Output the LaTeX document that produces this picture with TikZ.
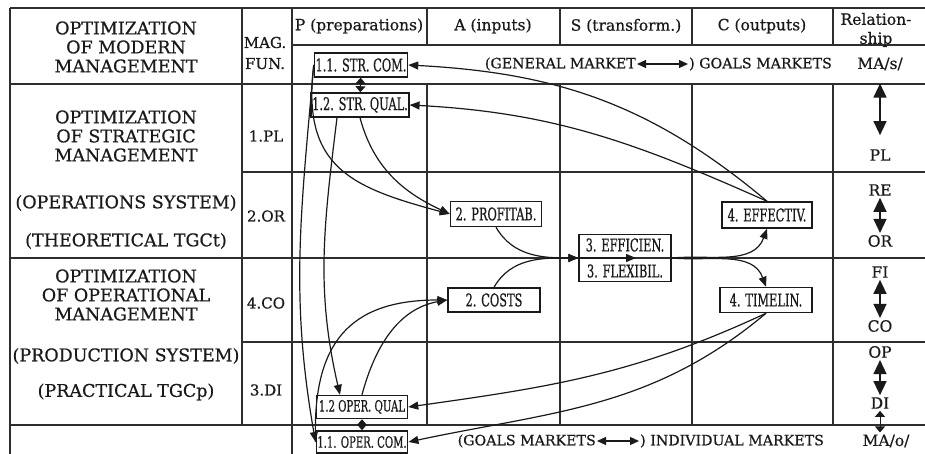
\documentclass[tikz,border=0pt]{standalone}
\usepackage{fontspec}
\usepackage{tikz}
\usepackage{xcolor}
\usetikzlibrary{arrows.meta,positioning}
\setmainfont[FakeBold=0.6]{DejaVu Serif}
\newfontfamily\boxfont[FakeStretch=0.65,FakeBold=0.6]{DejaVu Serif}
\definecolor{ink}     {HTML}{1A1A1A}
\definecolor{rulegray}{HTML}{2E2E2E}
\tikzset{
  rule/.style={draw=rulegray,line width=1.4pt},
  big/.style={font=\fontsize{17.5}{19}\selectfont,align=center,text=ink},
  head/.style={font=\fontsize{15.5}{19}\selectfont,align=center,text=ink},
  mag/.style={font=\fontsize{15}{21}\selectfont,align=center,text=ink},
  rel/.style={font=\fontsize{15.5}{18}\selectfont,text=ink,inner sep=2pt},
  mkt/.style={font=\fontsize{14.2}{16}\selectfont,text=ink,inner sep=1pt},
  item/.style={draw=ink,line width=1.5pt,inner xsep=1pt,inner ysep=2pt,
               font=\boxfont\fontsize{17.5}{18}\selectfont,text=ink},
  squeezed/.style={font=\boxfont\fontsize{15.5}{17}\selectfont},
  arr/.style={draw=ink,line width=1.2pt,-{Triangle[length=10pt,width=8pt]}},
  mktarr/.style={draw=ink,line width=1.2pt,
                 {Triangle[length=9pt,width=8pt]}-{Triangle[length=9pt,width=8pt]}},
  relarr/.style={draw=ink,line width=1.4pt,
                 {Triangle[length=14pt,width=13pt]}-{Triangle[length=14pt,width=13pt]}},
  linkarr/.style={draw=ink,line width=1pt,
                  {Triangle[length=6pt,width=10pt]}-{Triangle[length=6pt,width=10pt]}},
}

\begin{document}
\begin{tikzpicture}[x=1pt,y=1pt]
  \useasboundingbox (0,0) rectangle (925,-454);

  % table rules
  \draw[rule] (10,-8) -- (925,-8);
  \draw[rule] (292,-45) -- (925,-45);
  \draw[rule] (10,-84) -- (925,-84);
  \draw[rule] (242,-172) -- (925,-172);
  \draw[rule] (10,-258) -- (925,-258);
  \draw[rule] (242,-342) -- (925,-342);
  \draw[rule] (10,-425) -- (925,-425);
  \draw[rule] (10,-8) -- (10,-454);
  \draw[rule] (242,-8) -- (242,-425);
  \draw[rule] (292,-8) -- (292,-454);
  \foreach \x in {427,560,692,833} {
    \draw[rule] (\x,-8) -- (\x,-45);
    \draw[rule] (\x,-84) -- (\x,-425);
  }

  % header row
  \node[big] (modern) at (126,-47) {OPTIMIZATION\\OF MODERN\\MANAGEMENT};
  \node[mag] (magfun) at (265,-53) {MAG.\\FUN.};
  \node[head] (hp) at (359,-26) {P (preparations)};
  \node[head] (ha) at (493,-26) {A (inputs)};
  \node[head] (hs) at (626,-26) {S (transform.)};
  \node[head] (hc) at (762,-26) {C (outputs)};
  \node[head] (hrel) at (876,-30) {Relation-\\ship};

  % left column
  \node[big] (strat) at (126,-136) {OPTIMIZATION\\OF STRATEGIC\\MANAGEMENT};
  \node[big] (opsys) at (126,-203) {(OPERATIONS SYSTEM)};
  \node[big] (theor) at (126,-241) {(THEORETICAL TGCt)};
  \node[big] (operat) at (126,-295) {OPTIMIZATION\\OF OPERATIONAL\\MANAGEMENT};
  \node[big] (prodsys) at (126,-356) {(PRODUCTION SYSTEM)};
  \node[big] (pract) at (126,-392) {(PRACTICAL TGCp)};

  % function column
  \node[mag] (pl1) at (266,-136) {1.PL};
  \node[mag] (or2) at (266,-216) {2.OR};
  \node[mag] (co4) at (266,-303) {4.CO};
  \node[mag] (di3) at (266,-390) {3.DI};

  % boxes
  \node[item,minimum width=90pt,minimum height=24pt] (strcom) at (361,-65) {1.1. STR. COM.};
  \node[item,minimum width=92pt,minimum height=24pt] (strqual) at (360,-105) {1.2. STR. QUAL.};
  \node[item,minimum width=91pt,minimum height=25pt] (profitab) at (496,-214) {2. PROFITAB.};
  \node[item,minimum width=90pt,minimum height=26pt] (effectiv) at (767,-215) {4. EFFECTIV.};
  \node[item,minimum width=92pt,minimum height=47pt,align=center] (effic) at (625,-258)
    {3. EFFICIEN.\\[8pt]3. FLEXIBIL.};
  \node[item,minimum width=92pt,minimum height=24pt] (costs) at (494,-300) {2. COSTS};
  \node[item,minimum width=92pt,minimum height=25pt] (timelin) at (766,-300) {4. TIMELIN.};
  \node[item,squeezed,minimum width=91pt,minimum height=23pt] (operqual) at (362,-407) {1.2 OPER. QUAL};
  \node[item,squeezed,minimum width=87pt,minimum height=22pt] (opercom) at (362,-442) {1.1. OPER. COM.};
  \coordinate (effmid) at (636,-258);

  % markets
  \node[mkt,anchor=east] (genmkt) at (637,-64) {(GENERAL MARKET};
  \node[mkt,anchor=west] (goalmkt) at (688,-64) {) GOALS MARKETS};
  \node[mkt,anchor=east] (goalmkt2) at (597,-441) {(GOALS MARKETS};
  \node[mkt,anchor=west] (indmkt) at (639,-441) {) INDIVIDUAL MARKETS};
  \draw[mktarr] (genmkt) -- (goalmkt);
  \draw[mktarr] (goalmkt2) -- (indmkt);

  % relationship column
  \node[rel] (mas) at (880,-64) {MA/s/};
  \node[rel] (pl) at (880,-155) {PL};
  \node[rel] (re) at (880,-190) {RE};
  \node[rel] (or) at (880,-241) {OR};
  \node[rel] (fi) at (880,-272) {FI};
  \node[rel] (co) at (880,-326) {CO};
  \node[rel] (op) at (880,-352) {OP};
  \node[rel] (di) at (880,-403) {DI};
  \node[rel] (mao) at (886,-441) {MA/o/};
  \draw[relarr,shorten <=11pt,shorten >=12pt] (mas) -- (pl);
  \draw[relarr] (re) -- (or);
  \draw[relarr] (fi) -- (co);
  \draw[relarr] (op) -- (di);
  \draw[linkarr] (di) -- (di |- mao.north);
  \draw[linkarr] (strcom) -- (strqual);
  \draw[linkarr] (operqual) -- (opercom);

  % flows
  \draw[arr] (effectiv.north) to[out=140,in=-3] (strcom.east);
  \draw[arr] (effectiv.north) to[out=156,in=-3] (strqual.east);
  \draw[arr] (strcom.west) to[out=-97,in=165,looseness=1.3] (profitab.west);
  \draw[arr] (strqual.south) to[out=-75,in=155] (profitab.west);
  \draw[arr] (strcom.west) to[out=-95,in=100] (opercom.west);
  \draw[arr] ([xshift=-23pt]strqual.south) to[out=-97,in=103] ([xshift=-22pt]operqual.north);
  \draw[arr] (operqual.north) to[out=75,in=190] (costs.west);
  \draw[arr] (opercom.west) to[out=92,in=180,looseness=1.3] (costs.west);
  \draw[arr] (profitab.south) to[out=-60,in=180] (effic.west);
  \draw[arr] (costs.north) to[out=60,in=180] (effic.west);
  \draw[arr] (effic.west) -- (effmid);
  \draw[arr] (effic.east) to[out=5,in=-110] (effectiv.south);
  \draw[arr] (effic.east) to[out=-5,in=110] (timelin.north);
  \draw[arr] (timelin.south) to[out=-155,in=8] (operqual.east);
  \draw[arr] (timelin.south) to[out=-140,in=12] (opercom.east);
\end{tikzpicture}
\end{document}
